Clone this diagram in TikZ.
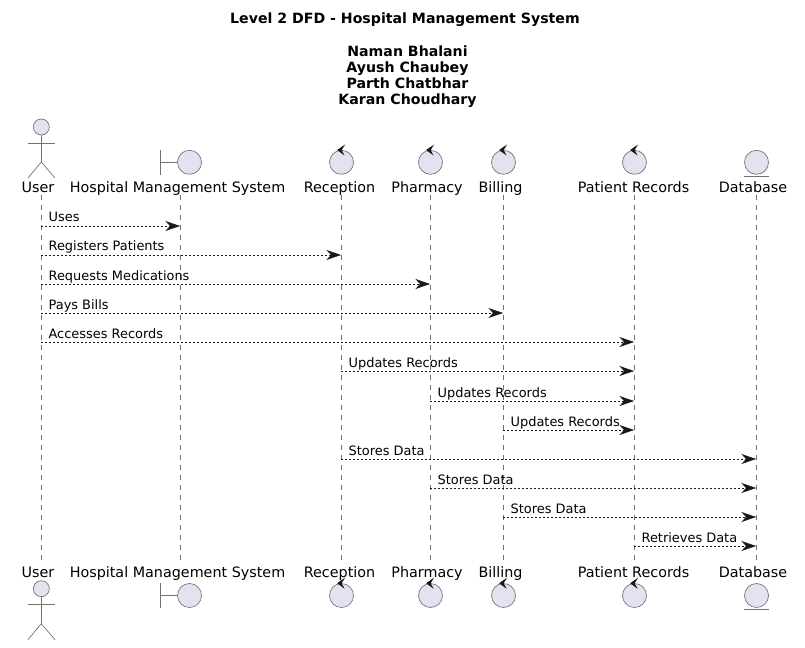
\documentclass[tikz,border=0pt]{standalone}
\usepackage{fontspec}
\setmainfont{DejaVu Sans}
\usetikzlibrary{arrows.meta}
\definecolor{glyphfill}{HTML}{E2E2F0}
\definecolor{glyphline}{HTML}{707070}
\definecolor{inkdark}{HTML}{181818}
\begin{document}
\begin{tikzpicture}[
    x=0.75pt,
    y=-0.75pt,
    font=\fontsize{10.75}{12}\selectfont,
    glyph/.style={
        draw=glyphline,
        circle,
        line width=0.5pt,
        minimum size=18pt,
        inner sep=0pt,
        fill=glyphfill
    },
    head/.style={glyph,minimum size=12pt},
    limb/.style={draw=glyphline,line width=0.5pt},
    lifeline/.style={draw=glyphline,line width=0.35pt,dash pattern=on 3.75pt off 3.75pt},
    message/.style={
        draw=inkdark,
        line width=0.35pt,
        dash pattern=on 1.5pt off 1.5pt,
        -{Stealth[length=11pt,width=7.5pt,inset=3.6pt,color=inkdark]}
    },
    msglabel/.style={anchor=base west,inner sep=0pt,font=\fontsize{9.7}{12}\selectfont},
    plabel/.style={anchor=base,inner sep=0pt},
    titleline/.style={anchor=base,inner sep=0pt,font=\fontsize{10.6}{12}\selectfont\bfseries}
]
    \useasboundingbox (0,0) rectangle (805,648);

    \node[titleline] (title) at (405,24) {Level 2 DFD - Hospital Management System};
    \node[titleline] (nameA) at (407.5,57) {Naman Bhalani};
    \node[titleline] (nameB) at (407.5,73) {Ayush Chaubey};
    \node[titleline] (nameC) at (407.5,89) {Parth Chatbhar};
    \node[titleline] (nameD) at (407.5,105) {Karan Choudhary};

    % lifelines and the names at both ends
    \foreach \pid/\px/\lx/\ptext in {
        user/41/38/User,
        hms/180/177.5/Hospital Management System,
        rec/341/339.5/Reception,
        pha/430/427/Pharmacy,
        bil/503/500.5/Billing,
        rcd/634/633.5/Patient Records,
        dbs/756/753/Database
    }{
        \coordinate (\pid-a) at (\px,195);
        \coordinate (\pid-b) at (\px,560);
        \draw[lifeline] (\pid-a) -- (\pid-b);
        \node[plabel] (\pid-top) at (\lx,192.6) {\ptext};
        \node[plabel] (\pid-bot) at (\lx,577.4) {\ptext};
    }

    % actor, top and bottom
    \foreach \tag/\yo in {top/127,bot/588.7}{
        \node[head] (userhead-\tag) at (41.3,\yo) {};
        \coordinate (userhip-\tag) at (41.3,\yo+35);
        \coordinate (userarmL-\tag) at (28,\yo+16);
        \coordinate (userarmR-\tag) at (55,\yo+16);
        \coordinate (userfootL-\tag) at (28,\yo+51);
        \coordinate (userfootR-\tag) at (55,\yo+51);
        \draw[limb] (userhead-\tag.south) -- (userhip-\tag);
        \draw[limb] (userarmL-\tag) -- (userarmR-\tag);
        \draw[limb] (userfootL-\tag) -- (userhip-\tag) -- (userfootR-\tag);
    }

    % boundary, controls and entity
    \foreach \tag/\yo in {top/162.3,bot/595.5}{
        \node[glyph] (hmsglyph-\tag) at (189.5,\yo) {};
        \coordinate (hmsbar-\tag) at (160.5,\yo);
        \coordinate (hmsbarA-\tag) at (160.5,\yo-12.3);
        \coordinate (hmsbarB-\tag) at (160.5,\yo+12.3);
        \draw[limb] (hmsbarA-\tag) -- (hmsbarB-\tag);
        \draw[limb] (hmsbar-\tag) -- (hmsglyph-\tag.west);

        \foreach \cid/\cx in {rec/341.5,pha/430.5,bil/503.5,rcd/634.5}{
            \node[glyph] (\cid glyph-\tag) at (\cx,\yo) {};
            \fill[inkdark] (\cx+3.6,\yo-17.8) -- (\cx-4.4,\yo-12.3)
                -- (\cx+3,\yo-6.8) -- (\cx+0.2,\yo-12.3) -- cycle;
        }

        \node[glyph] (dbsglyph-\tag) at (756.5,\yo) {};
        \coordinate (dbsbarA-\tag) at (744,\yo+14);
        \coordinate (dbsbarB-\tag) at (769,\yo+14);
        \draw[limb] (dbsbarA-\tag) -- (dbsbarB-\tag);
    }

    % messages
    \foreach \src/\dst/\ypos/\mtext [count=\i] in {
        user/hms/226/Uses,
        user/rec/255/Registers Patients,
        user/pha/284/Requests Medications,
        user/bil/313/Pays Bills,
        user/rcd/342/Accesses Records,
        rec/rcd/371/Updates Records,
        pha/rcd/401/Updates Records,
        bil/rcd/430/Updates Records,
        rec/dbs/459/Stores Data,
        pha/dbs/488/Stores Data,
        bil/dbs/517/Stores Data,
        rcd/dbs/546/Retrieves Data
    }{
        \coordinate (msg\i-a) at (\src-a |- 0,\ypos);
        \coordinate (msg\i-b) at (\dst-a |- 0,\ypos);
        \draw[message] (msg\i-a) -- (msg\i-b);
        \node[msglabel] (msgtext\i) at ([xshift=5.5pt,yshift=3pt]msg\i-a) {\mtext};
    }
\end{tikzpicture}
\end{document}
